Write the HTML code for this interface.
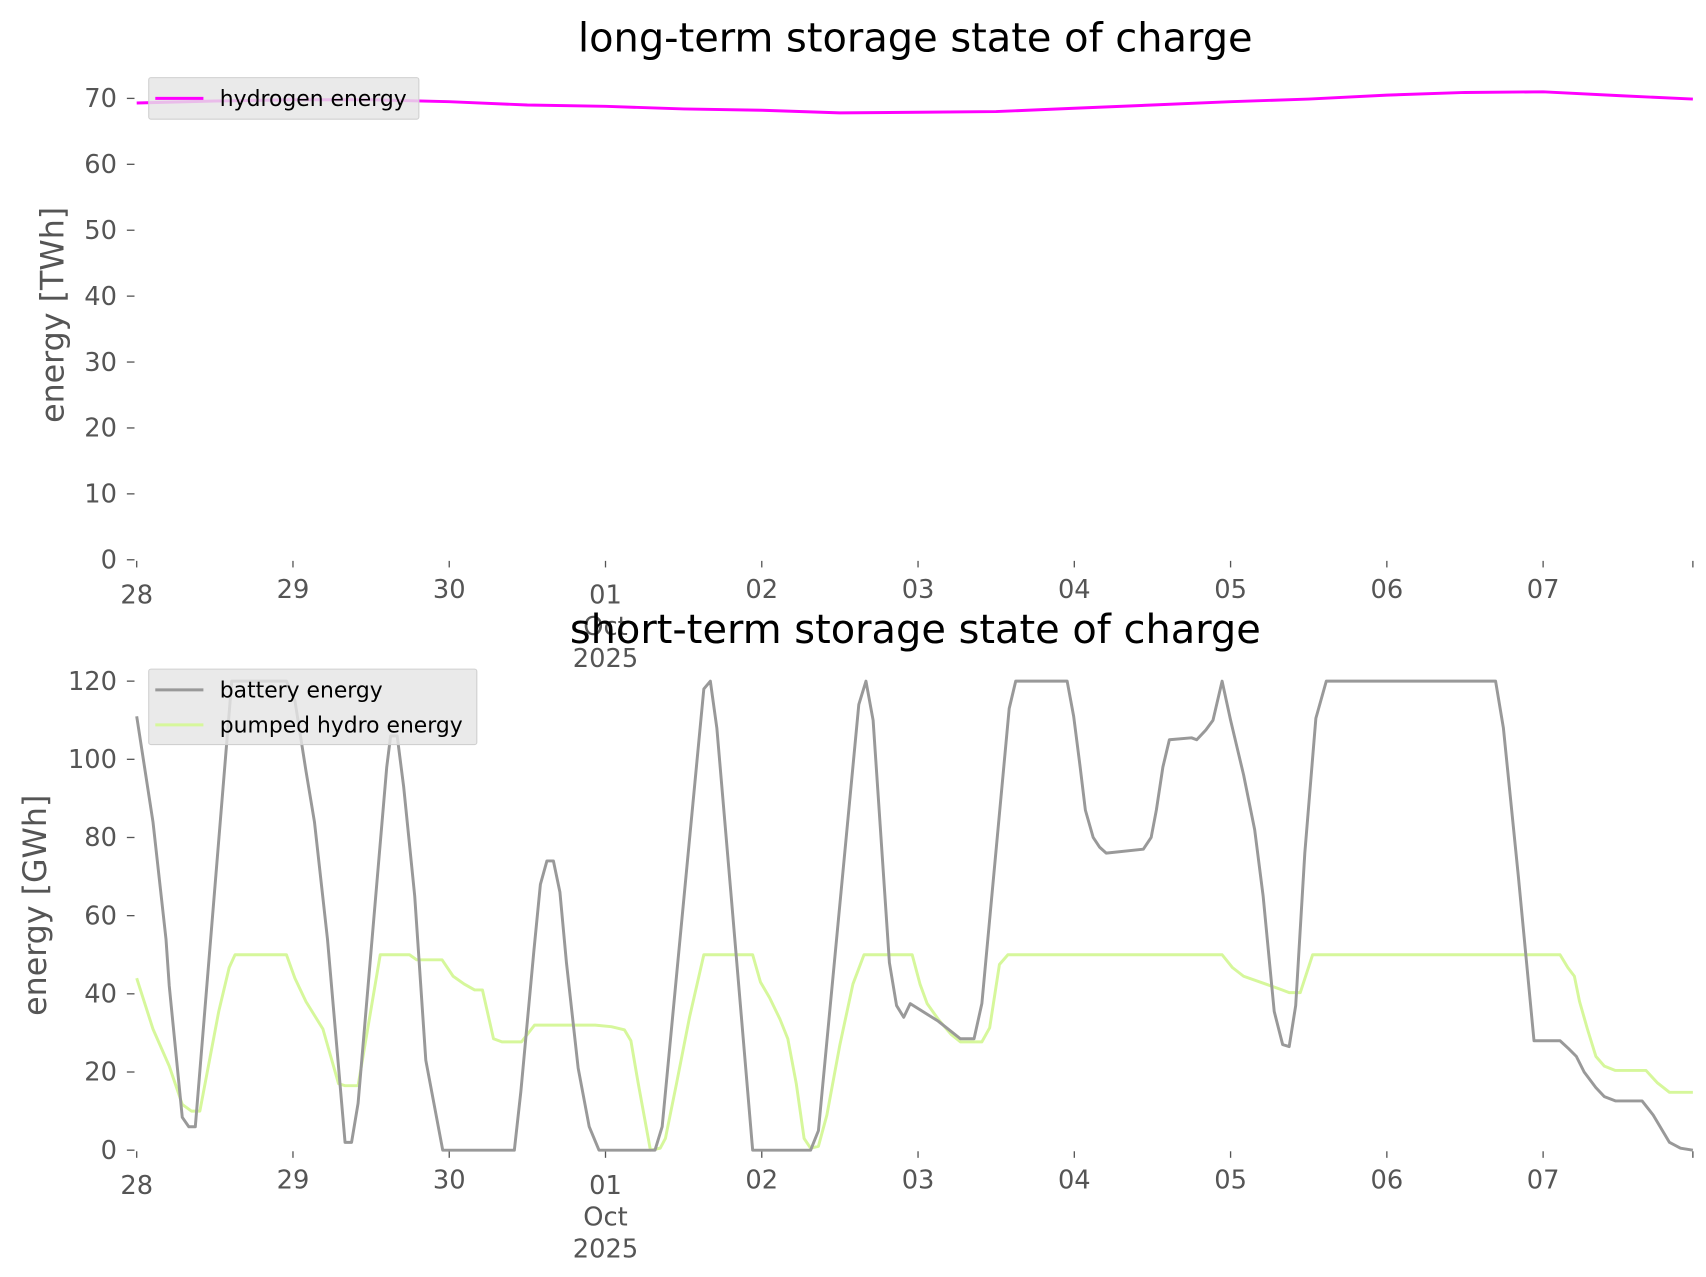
<!DOCTYPE html>
<html><head><meta charset="utf-8">
<style>
html,body{margin:0;padding:0;background:#fff;}
svg{display:block;font-family:"DejaVu Sans","Liberation Sans",sans-serif;}
</style></head>
<body>
<svg id="chart" width="1706" height="1277" viewBox="0 0 1560 1168" preserveAspectRatio="none" xmlns="http://www.w3.org/2000/svg"></svg>
<script>
// ---- data ----
const dayLabels = ["28","29","30","01","02","03","04","05","06","07"];
const h2Hours = [0,12,24,36,48,60,72,84,96,108,120,132,144,156,168,180,192,204,216,228,239];
const h2Values = [69.3,69.6,69.8,69.8,69.5,69.0,68.8,68.4,68.2,67.8,67.9,68.0,68.5,69.0,69.5,69.9,70.5,70.9,71.0,70.4,69.9];
const batHours = [0,2.5,4.5,5,7,8,9,14.6,23,24.3,26,27.3,29.3,32,33,34,38.4,39,40,41,42.7,44.4,47,58,59,61,62,63,64,65,66,67.8,69.5,71,79.6,80.7,87.1,88.1,89.1,91.3,94.6,103.5,104.7,110.9,112,113.1,115.6,116.7,117.8,118.8,123.1,126.5,128.6,129.8,134,135,142.9,143.9,144.9,145.7,146.9,147.9,148.9,154.6,155.8,156.6,157.6,158.6,162,162.8,164.2,165.3,166.7,168,170,171.7,173,174.7,176,177,178,179.4,181.1,182.7,208.7,209.9,212.2,214.6,218.6,219.9,221.1,222.3,224.1,225.4,227.1,231.2,232.9,235.4,237.1,239];
const batValues = [111,84,54,42,8.4,6,6,120,120,115,97,84,54,2,2,12,98,106,106,93,65,23,0,0,15,51,68,74,74,66,48,21,6,0,0,6,118,120,108,65,0,0,5,114,120,110,48,37,34,37.5,33,28.5,28.5,37.5,113,120,120,111,98,87,80,77.5,76,77,80,87,98,105,105.5,105,107.5,110,120,110,96,82,65,35.5,27,26.5,37,76,110.5,120,120,108,70,28,28,26,24,20,16,13.7,12.6,12.6,9,2,0.5,0];
const phHours = [0,2.5,5,7,8.4,9.7,12.6,14.2,15.1,23,24.3,26,28.6,31,32,34,37.4,41.9,43,46.9,48.6,50.3,51.9,53.1,54.8,56.1,59.1,61.1,70.4,72.9,74.9,75.9,77,78.9,80.4,81.2,82.9,84.9,87.1,94.6,95.8,97.2,98.8,100,101.3,102.5,103.5,104.7,106,108,110,111.7,119.1,120.3,121.4,123.1,125.1,126.5,129.8,131,132.5,133.8,166.7,168.3,170,173.4,175.9,177,178.7,180.6,218.6,219.8,220.8,221.6,222.8,224.1,225.4,227.1,231.8,233.5,235.4,239];
const phValues = [44,31,21.5,11.7,10,10,35.5,46.7,50,50,44,38,31,17,16.5,16.5,50,50,48.7,48.7,44.5,42.5,41,41,28.5,27.7,27.7,32,32,31.6,30.8,28,17.3,0,0.5,3,17,34,50,50,43,39,33.5,28.5,17,3,0.5,1,9,27,42.5,50,50,42.5,37.5,33.5,29.6,27.7,27.7,31.3,47.5,50,50,46.7,44.5,42.5,41,40.3,40.3,50,50,46.7,44.5,38,31,24,21.5,20.4,20.4,17.3,14.8,14.8];
const topTicks = [0,10,20,30,40,50,60,70];
const botTicks = [0,20,40,60,80,100,120];

// ---- layout ----
const NS = "http://www.w3.org/2000/svg";
const svg = document.getElementById('chart');
const X0 = 125, X1 = 1548, HMAX = 239;
const xs = h => X0 + (X1 - X0) * h / HMAX;
const yTop = v => 512 - (512 - 90) * v / 70;
const yBot = v => 1052 - (1052 - 623) * v / 120;

function mk(tag, attrs, parent) {
  const e = document.createElementNS(NS, tag);
  for (const k in attrs) e.setAttribute(k, attrs[k]);
  (parent || svg).appendChild(e);
  return e;
}
function txt(s, x, y, size, fill, anchor, parent) {
  const t = mk('text', {x: x, y: y, 'font-size': size, fill: fill, 'text-anchor': anchor || 'middle'}, parent);
  t.textContent = s;
  return t;
}

function axes(name, ys, ticks, baseY, title, titleY, ylabel, ylabelY) {
  const g = mk('g', {});
  
  
  const tt = txt(title, 837, titleY, 36.5, '#000', 'middle', g);
  
  
  ticks.forEach(v => {
    const y = ys(v);
    mk('line', {x1: 116, x2: 123, y1: y, y2: y, stroke: '#555', 'stroke-width': 1.2}, g);
    const l = txt(String(v), 107, y + 8, 23.5, '#555', 'end', g);
    
    
  });
  for (let i = 0; i <= 10; i++) {
    const x = xs(i * 24) > X1 ? X1 : xs(i * 24);
    mk('line', {x1: x, x2: x, y1: baseY + 1, y2: baseY + 7, stroke: '#555', 'stroke-width': 1.2}, g);
    if (i < 10) {
      const l = txt(dayLabels[i], x, baseY + (i === 0 || i === 3 ? 40 : 35), 23.5, '#555', 'middle', g);
      
      
    }
  }
  const x3 = xs(72);
  const o = txt('Oct', x3, baseY + 69, 23.5, '#555', 'middle', g);
  
  
  const yr = txt('2025', x3, baseY + 98, 23.5, '#555', 'middle', g);
  
  
  const yl = mk('text', {x: 0, y: 0, 'font-size': 29, fill: '#555', 'text-anchor': 'middle', transform: 'translate(' + ylabel[1] + ',' + ylabelY + ') rotate(-90)'}, g);
  yl.textContent = ylabel[0];
  
  
}

function series(hours, vals, ys, color, name) {
  const d = hours.map((h, i) => (i ? 'L' : 'M') + xs(h).toFixed(2) + ',' + ys(vals[i]).toFixed(2)).join(' ');
  const p = mk('path', {d: d, fill: 'none', stroke: color, 'stroke-width': 2.7, 'stroke-linejoin': 'round'});
  
  
}

function legend(x, y, w, h, entries, name) {
  const g = mk('g', {});
  
  
  mk('rect', {x: x, y: y, width: w, height: h, rx: 2, fill: '#e5e5e5', 'fill-opacity': 0.82, stroke: '#d0d0d0', 'stroke-width': 1}, g);
  entries.forEach((e, i) => {
    const cy = y + 19 + i * 32;
    mk('line', {x1: x + 6, x2: x + 50, y1: cy, y2: cy, stroke: e[1], 'stroke-width': 2.7}, g);
    const t = txt(e[0], x + 65, cy + 7, 20, '#000', 'start', g);
    
    
  });
}

axes('top-axes', yTop, topTicks, 512, 'long-term storage state of charge', 47, ['energy [TWh]', 58], 288);
series(h2Hours, h2Values, yTop, '#ff00ff', 'hydrogen-energy-line');
legend(136, 71, 247, 38, [['hydrogen energy', '#ff00ff']], 'top-legend');

axes('bottom-axes', yBot, botTicks, 1052, 'short-term storage state of charge', 588, ['energy [GWh]', 42], 828);
series(phHours, phValues, yBot, '#d6f79b', 'pumped-hydro-energy-line');
series(batHours, batValues, yBot, '#999999', 'battery-energy-line');
legend(136, 612, 300, 69, [['battery energy', '#999999'], ['pumped hydro energy', '#d6f79b']], 'bottom-legend');
</script>
</body></html>
